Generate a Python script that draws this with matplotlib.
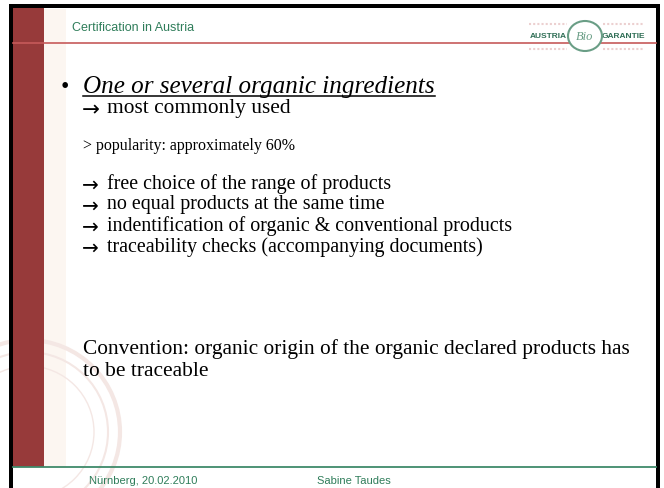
import matplotlib.pyplot as plt
from matplotlib.patches import Rectangle, Circle, Ellipse

# slide texts
header_title = 'Certification in Austria'
footer_left = 'Nürnberg, 20.02.2010'
footer_mid = 'Sabine Taudes'
bullet_title = 'One or several organic ingredients'
first_point = 'most commonly used'
note_line = '> popularity: approximately 60%'
arrow_points = [
    'free choice of the range of products',
    'no equal products at the same time',
    'indentification of organic & conventional products',
    'traceability checks (accompanying documents)',
]
convention_lines = [
    'Convention: organic origin of the organic declared products has',
    'to be traceable',
]

W, H = 664, 488
red = '#973a3a'
green = '#2f7d5a'
serif = ['Liberation Serif', 'DejaVu Serif']
sans = ['Liberation Sans', 'DejaVu Sans']

fig = plt.figure(figsize=(W / 100, H / 100), dpi=100)
ax = fig.add_axes([0, 0, 1, 1])
ax.set_xlim(0, W)
ax.set_ylim(H, 0)
ax.axis('off')

# faint seal watermark bottom-left
for r, lw in [(92, 3), (80, 1.5), (66, 1)]:
    ax.add_patch(Circle((28, 432), r, fill=False, ec='#f4e7e4', lw=lw, zorder=1))
ax.add_patch(Rectangle((44, 9), 22, 458, fc='#fcf6f1', ec='none', zorder=0))

# left red band and black frame
ax.add_patch(Rectangle((13, 8), 31, 459, fc=red, ec='none', zorder=2))
ax.add_patch(Rectangle((9, 4), 4, H, fc='black', ec='none', zorder=3))
ax.add_patch(Rectangle((9, 4), 651, 4, fc='black', ec='none', zorder=3))
ax.add_patch(Rectangle((656, 4), 4, H, fc='black', ec='none', zorder=3))

# header
ax.text(72, 28, header_title, fontsize=9, color=green, family=sans, va='center', ha='left')
ax.plot([13, 656], [43, 43], color='#c65a5a', lw=1.2, zorder=4)

# logo
for yy in (24, 49):
    ax.plot([529, 567], [yy, yy], color='#ecd0d0', lw=1.5, ls=(0, (1, 1)))
    ax.plot([603, 643], [yy, yy], color='#ecd0d0', lw=1.5, ls=(0, (1, 1)))
ax.text(548, 37, 'AUSTRIA', fontsize=6, fontweight='bold', color='#2f6e55', family=sans,
        ha='center', va='center', zorder=5)
ax.text(623, 37, 'GARANTIE', fontsize=6, fontweight='bold', color='#2f6e55', family=sans,
        ha='center', va='center', zorder=5)
ax.add_patch(Ellipse((585, 36), 34, 30, fill=True, fc='white', ec='#6a9e86', lw=1.5, zorder=5))
ax.text(585, 37, 'Bio', fontsize=9, style='italic', color='#6a9e86', family=serif,
        ha='center', va='center', zorder=6)

# footer
ax.plot([13, 656], [467, 467], color='#3f8a6a', lw=1.3, zorder=4)
ax.text(89, 481, footer_left, fontsize=8, color=green, family=sans, va='center')
ax.text(317, 481, footer_mid, fontsize=8, color=green, family=sans, va='center')

# body
ax.text(65, 88, '\u2022', fontsize=17, family=serif, va='center', ha='center')
title = ax.text(83, 87, bullet_title, fontsize=18.1, style='italic', family=serif, va='center')


def arrow_line(y, txt, size):
    ax.text(82, y + 1, '\u2192', fontsize=size, family='DejaVu Sans', va='center')
    ax.text(107, y, txt, fontsize=size, family=serif, va='center')


arrow_line(109, first_point, 15.4)
ax.text(83, 146, note_line, fontsize=11.5, family=serif, va='center')
for i, p in enumerate(arrow_points):
    arrow_line(184 + i * 21, p, 14.4)
for i, line in enumerate(convention_lines):
    ax.text(83, 349 + i * 23, line, fontsize=15.4, family=serif, va='center')

# underline the bullet title
fig.canvas.draw()
bb = title.get_window_extent().transformed(ax.transData.inverted())
ax.plot([bb.x0, bb.x1], [96, 96], color='black', lw=1.1)

fig.savefig('out.png', dpi=100)
